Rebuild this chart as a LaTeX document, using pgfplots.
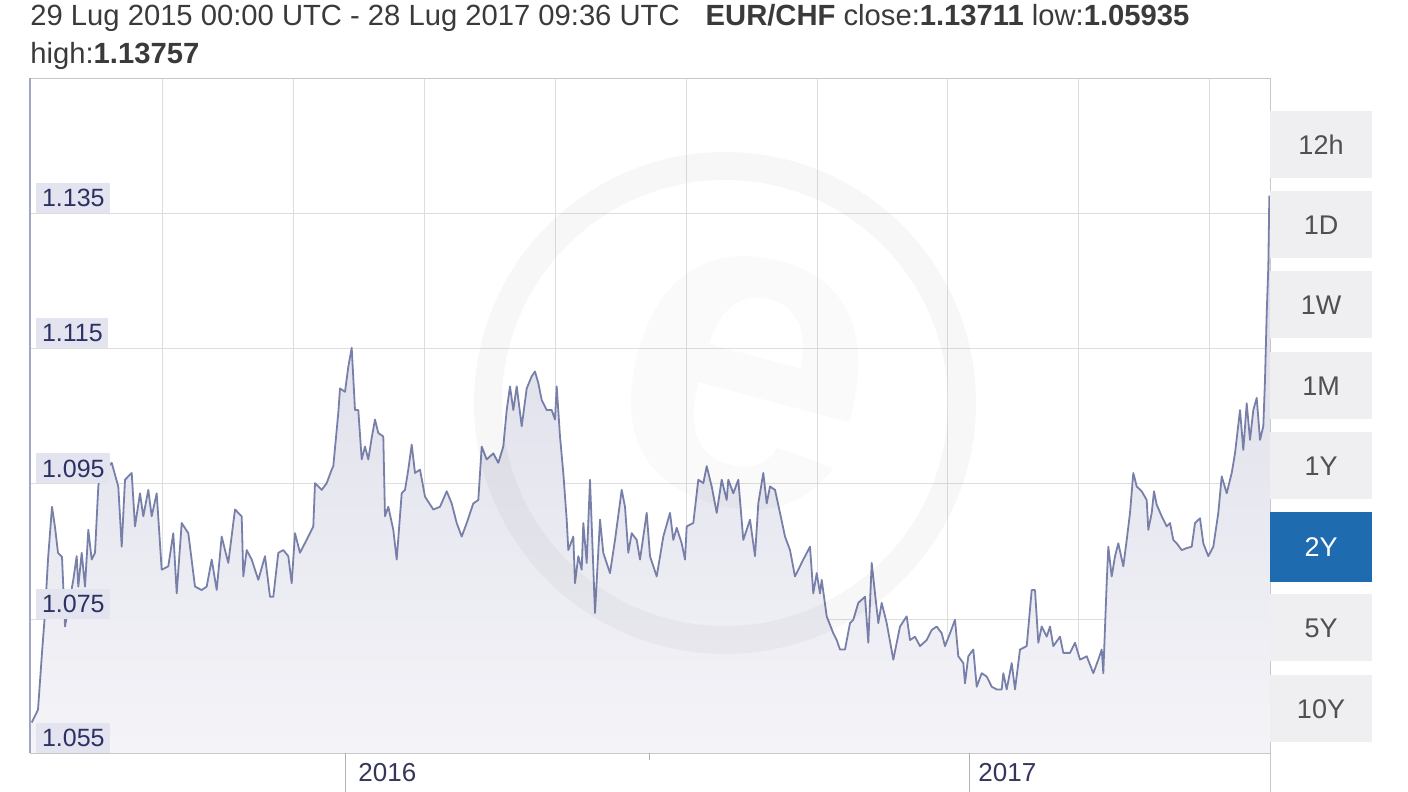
\documentclass[border=0pt]{standalone}
\usepackage{pgfplots}
\pgfplotsset{compat=1.18}
\usepackage{pgfplotstable}
\usepackage{fontspec}
\setmainfont{Liberation Sans}
\definecolor{linec}{HTML}{7880AA}
\definecolor{filltop}{HTML}{D9DAE7}
\definecolor{fillbot}{HTML}{F4F4F8}
\definecolor{gridc}{HTML}{DEDEDE}
\definecolor{labbg}{HTML}{E3E4EF}
\definecolor{labtxt}{HTML}{2C3164}
\definecolor{hdr}{HTML}{3A3A3A}
\definecolor{btn}{HTML}{EFEFF1}
\definecolor{btntxt}{HTML}{505050}
\definecolor{btnblue}{HTML}{1F6BB0}
\definecolor{xlab}{HTML}{34365A}

\pgfplotstableread{
x y
31.7 1.0597
38 1.0616
42 1.0700
45 1.0759
48 1.0838
52 1.0916
55 1.0886
58 1.0848
62 1.0842
65 1.0739
73.3 1.0808
76.7 1.0843
78.3 1.0798
81.7 1.0848
85 1.0798
88.3 1.0882
91.7 1.0838
95 1.0848
98.3 1.0946
101.7 1.0981
105 1.0971
111.7 1.0981
118.3 1.0946
121.7 1.0857
125 1.0956
131.7 1.0966
135 1.0887
140 1.0936
143.3 1.0902
148.3 1.0941
151.7 1.0902
156.7 1.0936
161.7 1.0823
168.3 1.0828
173.3 1.0877
176.7 1.0788
181.7 1.0892
188.3 1.0877
195 1.0798
201.7 1.0793
206.7 1.0798
211.7 1.0838
216.7 1.0793
221.7 1.0872
225 1.0852
228.3 1.0833
235 1.0912
241.7 1.0902
243.3 1.0813
246.7 1.0852
251.7 1.0838
258.3 1.0808
265 1.0843
270 1.0783
273.3 1.0783
278.3 1.0848
283.3 1.0852
288.3 1.0843
291.7 1.0803
295 1.0877
300 1.0848
308.3 1.0872
313.3 1.0887
315 1.0951
321.7 1.0941
326.7 1.0951
331.7 1.0971
333.3 1.0976
338.3 1.1055
340 1.1091
345 1.1086
348.3 1.1123
351.7 1.1151
355 1.1059
358.3 1.1059
361.7 1.0986
365 1.1005
368.3 1.0986
371.7 1.1018
375 1.1045
378.3 1.1025
383.3 1.1020
385 1.0902
388.3 1.0916
393.3 1.0882
396.7 1.0838
401.7 1.0936
405 1.0941
408.3 1.0971
411.7 1.1008
415 1.0966
420 1.0971
425 1.0931
433.3 1.0912
440 1.0916
446.7 1.0939
451.7 1.0921
456.7 1.0892
461.7 1.0872
466.7 1.0892
473.3 1.0921
478.3 1.0926
481.7 1.1005
486.7 1.0986
493.3 1.0995
498.3 1.0981
503.3 1.1005
506.7 1.1059
510 1.1094
513.3 1.1059
516.7 1.1094
521.7 1.1035
526.7 1.1091
531.7 1.1109
535 1.1116
538.3 1.1099
541.7 1.1074
546.7 1.1059
551.7 1.1059
555 1.1045
556.7 1.1094
560 1.1020
563.3 1.0966
566.7 1.0897
568.3 1.0852
573.3 1.0872
575 1.0803
578.3 1.0843
581.7 1.0823
583.3 1.0892
586.7 1.0833
590 1.0956
595 1.0759
600 1.0897
603.3 1.0848
610 1.0818
615 1.0867
621.7 1.0941
625 1.0916
628.3 1.0848
631.7 1.0877
636.7 1.0867
640 1.0838
646.7 1.0907
650 1.0843
656.7 1.0813
663.3 1.0872
670 1.0907
673.3 1.0867
676.7 1.0885
681.7 1.0862
685 1.0838
686.7 1.0887
693.3 1.0892
698.3 1.0956
703.3 1.0951
706.7 1.0976
711.7 1.0946
716.7 1.0907
721.7 1.0956
726.7 1.0926
728.3 1.0956
733.3 1.0936
738.3 1.0956
743.3 1.0867
750 1.0897
755 1.0843
758.3 1.0921
763.3 1.0966
766.7 1.0921
770 1.0946
775 1.0941
780 1.0907
785 1.0872
790 1.0852
795 1.0813
803.3 1.0838
810 1.0857
813.3 1.0788
816.7 1.0818
820 1.0788
821.7 1.0808
826.7 1.0754
833.3 1.0729
836.7 1.0719
840 1.0705
845 1.0705
850 1.0744
853.3 1.0749
858.3 1.0774
865 1.0783
868.3 1.0715
871.7 1.0833
875 1.0788
878.3 1.0744
881.7 1.0774
886.7 1.0744
893.3 1.0690
900 1.0739
906.7 1.0754
910 1.0719
915 1.0724
920 1.0710
926.7 1.0719
931.7 1.0734
936.7 1.0739
941.7 1.0729
945 1.0710
950 1.0729
955 1.0749
958.3 1.0695
963.3 1.0685
965 1.0655
968.3 1.0695
973.3 1.0705
976.7 1.0650
981.7 1.0670
986.7 1.0665
991.7 1.0650
996.7 1.0646
1001.7 1.0646
1003.3 1.0670
1006.7 1.0646
1011.7 1.0685
1015 1.0646
1020 1.0705
1026.7 1.0710
1031.7 1.0793
1035 1.0793
1038.3 1.0715
1041.7 1.0739
1046.7 1.0724
1050 1.0739
1053.3 1.0710
1060 1.0724
1063.3 1.0700
1070 1.0700
1075 1.0715
1080 1.0690
1086.7 1.0695
1093.3 1.0670
1098.3 1.0690
1101.7 1.0705
1103.3 1.0670
1106.7 1.0804
1108.3 1.0857
1111.7 1.0813
1115 1.0843
1118.3 1.0862
1123.3 1.0828
1126.7 1.0867
1130 1.0907
1133.3 1.0966
1136.7 1.0946
1141.7 1.0939
1146.7 1.0926
1148.3 1.0882
1151.7 1.0907
1154 1.0939
1156.7 1.0919
1161.7 1.0902
1166.7 1.0887
1170 1.0892
1173.3 1.0867
1176.7 1.0862
1181.7 1.0852
1186.7 1.0855
1191.7 1.0857
1195 1.0892
1200 1.0899
1203.3 1.0862
1208.3 1.0843
1213.3 1.0857
1218.3 1.0907
1221.7 1.0961
1226.7 1.0936
1231.7 1.0966
1235 1.0995
1240 1.1059
1243.3 1.1000
1246.7 1.1069
1250 1.1015
1253.3 1.1059
1256.7 1.1077
1260 1.1015
1263.3 1.1035
1265 1.1104
1266.7 1.1202
1268.3 1.1271
1269.3 1.1375
1270 1.1371
}\eurchf

\tikzset{ylab/.style={anchor=south west, fill=labbg, text=labtxt, inner xsep=2.8pt, inner ysep=0pt,
        minimum height=15pt, font=\fontsize{12.5}{14}\selectfont}}

\begin{document}
\begin{tikzpicture}[x=1pt,y=1pt]
\useasboundingbox (0,0) rectangle (704,396);
\begin{axis}[
  at={(15pt,19.5pt)}, anchor=south west,
  scale only axis, width=620pt, height=337.5pt,
  xmin=30, xmax=1270, ymin=1.0552, ymax=1.1550,
  clip=false,
  axis line style={draw=gridc!90!black},
  xtick={162,293,424,555,686,817,947,1078,1209},
  ytick={1.075,1.095,1.115,1.135},
  xticklabels={}, yticklabels={},
  major tick length=0pt,
  xmajorgrids, ymajorgrids,
  grid style={draw=gridc, line width=0.5pt},
]
\addplot[draw=none, top color=filltop, bottom color=fillbot] table[x=x,y=y] {\eurchf} \closedcycle;
\addplot[linec, line width=0.9pt, line join=round] table[x=x,y=y] {\eurchf};

\draw[linec!70, line width=0.6pt] (axis cs:30,1.0552) -- (axis cs:30,1.1550);
\draw[gridc!80!black, line width=0.5pt] (axis cs:345,1.0552) -- ++(0pt,-19.5pt);
\draw[gridc!80!black, line width=0.5pt] (axis cs:969,1.0552) -- ++(0pt,-19.5pt);
\draw[gridc!80!black, line width=0.5pt] (axis cs:649,1.0552) -- ++(0pt,-3.5pt);
\draw[gridc!90!black, line width=0.5pt] (axis cs:1270,1.0552) -- ++(0pt,-19.5pt);

\node[ylab] at (axis cs:36,1.135) {1.135};
\node[ylab] at (axis cs:36,1.115) {1.115};
\node[ylab] at (axis cs:36,1.095) {1.095};
\node[ylab] at (axis cs:36,1.075) {1.075};
\node[ylab] at (axis cs:36,1.0552) {1.055};
\end{axis}

\draw[black, opacity=0.03, line width=14pt] (362.5,194.5) circle (118.5);
\node[opacity=0.02, font=\fontsize{230}{230}\selectfont\bfseries, rotate=-15] at (372,205) {e};

\node[anchor=west, inner sep=0pt, text=xlab, font=\fontsize{13}{15}\selectfont] at (179,9.5) {2016};
\node[anchor=west, inner sep=0pt, text=xlab, font=\fontsize{13}{15}\selectfont] at (489,9.5) {2017};

\node[anchor=west, inner sep=0pt, text=hdr, font=\fontsize{14.6}{17}\selectfont] at (15,387)
  {29 Lug 2015 00:00 UTC - 28 Lug 2017 09:36 UTC\hspace{13pt}\textbf{EUR/CHF} close:\textbf{1.13711} low:\textbf{1.05935}};
\node[anchor=west, inner sep=0pt, text=hdr, font=\fontsize{14.6}{17}\selectfont] at (15,368)
  {high:\textbf{1.13757}};

\foreach \lab/\yc in {12h/323.5, 1D/283.5, 1W/243.5, 1M/203, 1Y/163, 5Y/82, 10Y/41.5}{
  \node[fill=btn, text=btntxt, minimum width=51pt, minimum height=33.5pt, inner sep=0pt,
        font=\fontsize{13.5}{15}\selectfont] at (660.5,\yc) {\lab};
}
\node[fill=btnblue, text=white, minimum width=51pt, minimum height=35pt, inner sep=0pt,
      font=\fontsize{13.5}{15}\selectfont] at (660.5,122.5) {2Y};
\end{tikzpicture}
\end{document}
